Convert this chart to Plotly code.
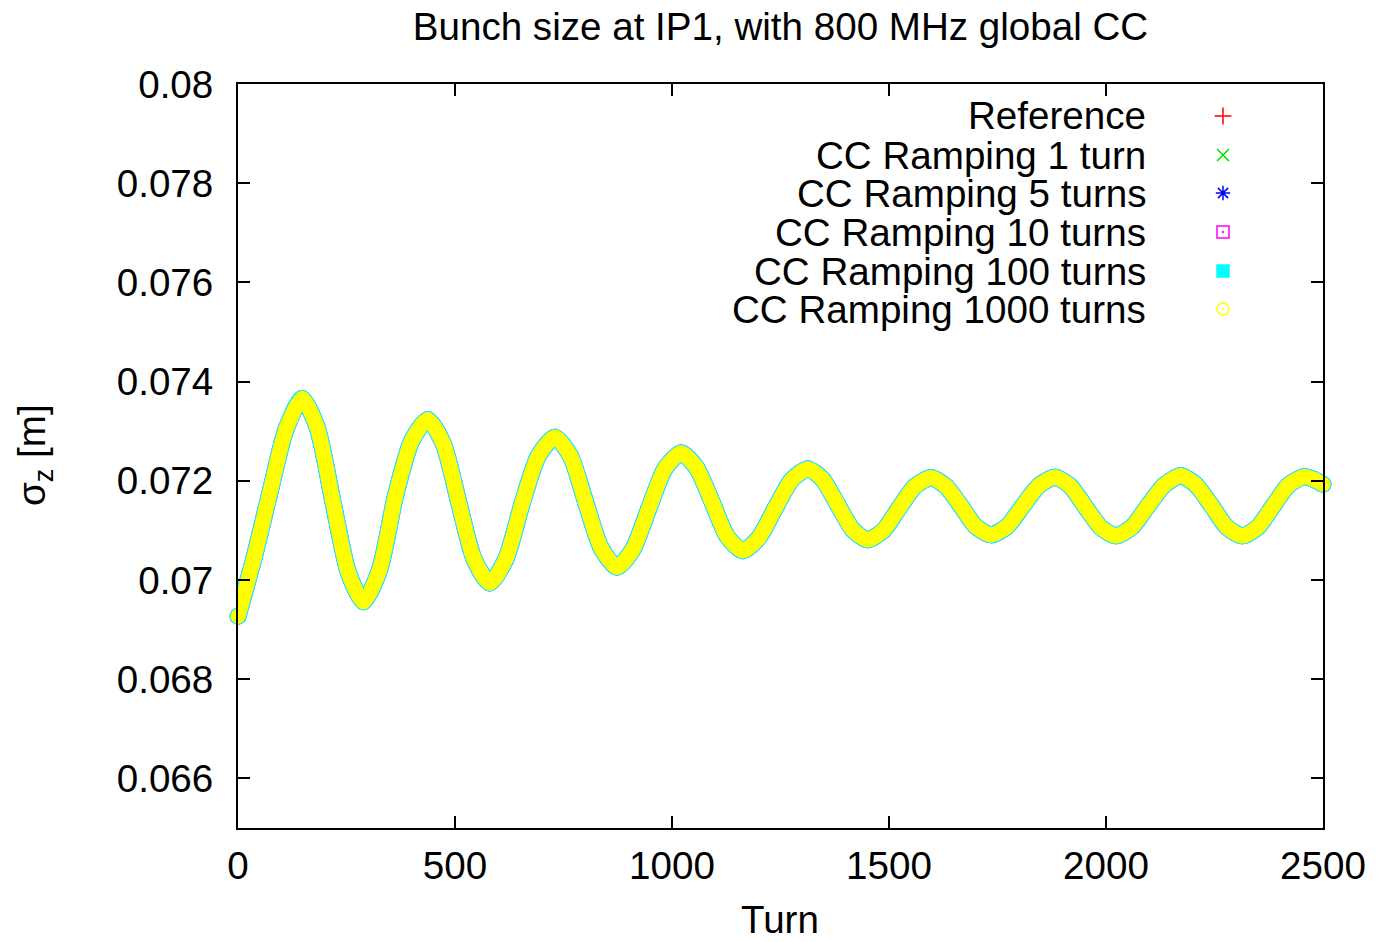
import plotly.graph_objects as go

# Bunch length sigma_z [m] versus turn number at IP1
turns = [0, 37, 74, 111, 148, 183, 218, 254, 289, 326, 363,
         400, 437, 473, 508, 544, 580, 617, 655, 692, 730, 766, 801, 837, 873,
         910, 947, 984, 1021, 1056, 1092, 1127, 1163, 1200, 1238, 1276, 1313,
         1347, 1381, 1416, 1450, 1487, 1523, 1560, 1597, 1631, 1666, 1700, 1735,
         1772, 1808, 1845, 1882, 1917, 1952, 1988, 2023, 2060, 2097, 2135, 2172,
         2207, 2243, 2278, 2314, 2349, 2385, 2420, 2456, 2478, 2500]

sigma_z = [0.06927, 0.07045, 0.07178, 0.07305, 0.07366,
           0.07306, 0.07161, 0.07016, 0.06956, 0.07020, 0.07170,
           0.07280, 0.07323, 0.07275, 0.07159, 0.07042, 0.06994, 0.07042, 0.07155,
           0.07250, 0.07288, 0.07250, 0.07157, 0.07064, 0.07026, 0.07062, 0.07145,
           0.07225, 0.07256, 0.07227, 0.07158, 0.07088, 0.07059, 0.07085, 0.07145,
           0.07202, 0.07224, 0.07203, 0.07153, 0.07102, 0.07081, 0.07100, 0.07145,
           0.07189, 0.07206, 0.07189, 0.07149, 0.07108, 0.07091, 0.07108, 0.07149,
           0.07190, 0.07207, 0.07190, 0.07148, 0.07106, 0.07089, 0.07107, 0.07150,
           0.07192, 0.07210, 0.07192, 0.07150, 0.07107, 0.07089, 0.07106, 0.07149,
           0.07191, 0.07208, 0.07203, 0.07193]

series_names = ["Reference", "CC Ramping 1 turn", "CC Ramping 5 turns",
                "CC Ramping 10 turns", "CC Ramping 100 turns", "CC Ramping 1000 turns"]
series_colors = ["#ff0000", "#00e000", "#0000ff", "#ff00ff", "#00ffff", "#ffff00"]
series_symbols = ["cross-thin-open", "x-thin-open", "asterisk-open",
                  "square-open-dot", "square", "circle-open-dot"]
band_widths = [15, 15, 15, 17, 17, 15]

x_tickvals = [0, 500, 1000, 1500, 2000, 2500]
x_ticktext = ["0", "500", "1000", "1500", "2000", "2500"]
y_tickvals = [0.066, 0.068, 0.070, 0.072, 0.074, 0.076, 0.078, 0.080]
y_ticktext = ["0.066", "0.068", "0.07", "0.072", "0.074", "0.076", "0.078", "0.08"]

FONT = "Liberation Sans, Arial, sans-serif"
FS = 38.6

W, H = 1377, 942
L, R, T, B = 238, 54, 84, 114
PW, PH = W - L - R, H - T - B


def paper_x(px):
    return (px - L) / PW


def paper_y(py):
    return (H - B - py) / PH


fig = go.Figure()

# all six runs lie on top of each other; the dense point clouds form a thick band
for name, color, w in zip(series_names, series_colors, band_widths):
    fig.add_trace(go.Scatter(
        x=turns, y=sigma_z, name=name, mode="lines+markers",
        line=dict(color=color, width=w, shape="spline", smoothing=0.7),
        marker=dict(color=color, size=w, symbol="circle"),
        cliponaxis=False, showlegend=False, hoverinfo="skip"))

# key: text on the left, point symbol on the right (pixel-space overlay axes)
key_rows = [116, 155, 193, 232, 271, 309]
key_text_right = 1148
key_symbol_x = 1223
for name, color, sym, row in zip(series_names, series_colors, series_symbols, key_rows):
    fig.add_trace(go.Scatter(
        x=[key_symbol_x], y=[row], mode="markers", xaxis="x2", yaxis="y2",
        marker=dict(symbol=sym, size=12, color=color,
                    line=dict(color=color, width=1.5)),
        showlegend=False, hoverinfo="skip"))
    fig.add_annotation(x=paper_x(key_text_right), y=paper_y(row),
                       xref="paper", yref="paper",
                       text=name, showarrow=False, xanchor="right", yanchor="middle",
                       font=dict(family=FONT, size=FS, color="black"))

# axis titles
fig.add_annotation(x=paper_x(780), y=paper_y(920), xref="paper", yref="paper",
                   text="Turn", showarrow=False, xanchor="center", yanchor="middle",
                   font=dict(family=FONT, size=FS, color="black"))
fig.add_annotation(x=paper_x(34), y=paper_y(455), xref="paper", yref="paper",
                   text="σ<sub>z</sub> [m]", showarrow=False, textangle=-90,
                   xanchor="center", yanchor="middle",
                   font=dict(family=FONT, size=FS, color="black"))

axis_common = dict(showline=True, linecolor="black", linewidth=2, mirror="ticks",
                   ticks="inside", ticklen=12, tickwidth=2, tickcolor="black",
                   showgrid=False, zeroline=False, automargin=False,
                   tickfont=dict(family=FONT, size=FS, color="black"))

fig.update_layout(
    width=W, height=H, autosize=False,
    margin=dict(l=L, r=R, t=T, b=B),
    paper_bgcolor="white", plot_bgcolor="white",
    font=dict(family=FONT, size=FS, color="black"),
    title=dict(text="Bunch size at IP1, with 800 MHz global CC",
               x=(L + (W - R)) / 2 / W, xanchor="center",
               y=1 - 26 / H, yanchor="middle", yref="container",
               font=dict(family=FONT, size=FS, color="black")),
    xaxis=dict(range=[0, 2500], tickvals=x_tickvals, ticktext=x_ticktext,
               ticklabelstandoff=3, **axis_common),
    yaxis=dict(range=[0.065, 0.080], tickvals=y_tickvals, ticktext=y_ticktext,
               ticklabelstandoff=15, **axis_common),
    xaxis2=dict(overlaying="x", range=[L, W - R], visible=False, fixedrange=True),
    yaxis2=dict(overlaying="y", range=[H - B, T], visible=False, fixedrange=True),
)

fig.write_html("out.html")
